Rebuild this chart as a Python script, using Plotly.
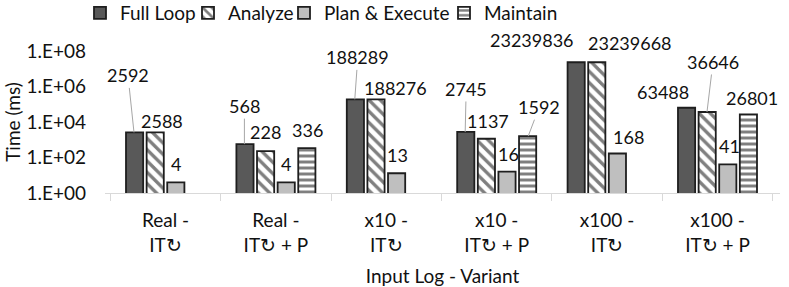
import math
import plotly.graph_objects as go

# ---- data ----
categories = ["Real -<br>IT↻", "Real -<br>IT↻ + P", "x10 -<br>IT↻",
              "x10 -<br>IT↻ + P", "x100 -<br>IT↻", "x100 -<br>IT↻ + P"]
full_loop = [2592, 568, 188289, 2745, 23239836, 63488]
analyze = [2588, 228, 188276, 1137, 23239668, 36646]
plan_execute = [4, 4, 13, 16, 168, 41]
maintain = [None, 336, None, 1592, None, 26801]
y_tickvals = [1, 1e2, 1e4, 1e6, 1e8]
y_ticktext = ["1.E+00", "1.E+02", "1.E+04", "1.E+06", "1.E+08"]

# ---- style ----
FONT = "Lato"
W, H = 789, 287
M_L, M_R, M_T, M_B = 105, 9, 51, 94
BARGAP, BARGROUPGAP = 0.253, 0.167
EDGE = "#1e1e1e"

# label placement per series: (dx px, dy px, leader line)
label_style = {
    "full": [(-6, -57, True), (0, -38, True), (3, -42, True), (1, -43, True), (-44, -22, False), (-23, -16, False)],
    "analyze": [(7, -11, False), (0, -19, False), (20, -11, False), (2, -18, False), (33, -19, False), (6, -50, True)],
    "plan": [(0, -18, False), (0, -18, False), (1, -18, False), (1, -18, False), (11, -17, False), (2, -18, False)],
    "maintain": [None, (0, -18, False), None, (11, -29, True), None, (3, -16, False)],
}
# left edge (px) of each legend entry
legend_x = [80, 188, 284, 444]

series = [
    ("Full Loop", full_loop, "full",
     dict(color="#595959", line=dict(color=EDGE, width=1.8))),
    ("Analyze", analyze, "analyze",
     dict(color="white", line=dict(color=EDGE, width=1.8),
          pattern=dict(shape="\\", fgcolor="#000000", bgcolor="white", size=8, solidity=0.42))),
    ("Plan & Execute", plan_execute, "plan",
     dict(color="#bfbfbf", line=dict(color=EDGE, width=1.8))),
    ("Maintain", maintain, "maintain",
     dict(color="white", line=dict(color=EDGE, width=1.8),
          pattern=dict(shape="-", fgcolor="#000000", bgcolor="white", size=6, solidity=0.5))),
]

legend_names = ["legend", "legend2", "legend3", "legend4"]

fig = go.Figure()
for k, (name, vals, key, marker) in enumerate(series):
    fig.add_trace(go.Bar(name=name, x=categories, y=vals, marker=marker,
                         legend=legend_names[k]))

plot_w = W - M_L - M_R
group_px = plot_w / len(categories)
slot_px = group_px * (1 - BARGAP) / len(series)

annotations = []
for k, (name, vals, key, marker) in enumerate(series):
    off = (k - (len(series) - 1) / 2) * slot_px
    for i, v in enumerate(vals):
        st = label_style[key][i]
        if v is None or st is None:
            continue
        dx, dy, leader = st
        common = dict(x=categories[i], y=math.log10(v), text=str(v),
                      font=dict(family=FONT, size=18, color="#111111"))
        if leader:
            annotations.append(dict(**common, showarrow=True, arrowhead=0, arrowwidth=1,
                                    arrowcolor="#a6a6a6", ax=dx, ay=dy, standoff=0,
                                    xshift=off))
        else:
            annotations.append(dict(**common, showarrow=False, xshift=off + dx, yshift=-dy,
                                    xanchor="center", yanchor="middle"))

legend_layout = {}
for k, ln in enumerate(legend_names):
    legend_layout[ln] = dict(orientation="h", xref="container", x=legend_x[k] / W,
                             xanchor="left", yref="container", y=1 - 13 / H,
                             yanchor="middle", font=dict(family=FONT, size=19),
                             itemwidth=30, bgcolor="rgba(0,0,0,0)")

fig.update_layout(
    width=W, height=H,
    margin=dict(l=M_L, r=M_R, t=M_T, b=M_B, pad=0, autoexpand=False),
    paper_bgcolor="white", plot_bgcolor="white",
    barmode="group", bargap=BARGAP, bargroupgap=BARGROUPGAP,
    font=dict(family=FONT, size=19, color="#111111"),
    showlegend=True,
    annotations=annotations,
    **legend_layout,
)

fig.update_xaxes(
    type="category", showline=True, linecolor="#d9d9d9", linewidth=1,
    ticks="outside", tickson="boundaries", ticklen=7, tickcolor="#d9d9d9",
    showgrid=False, tickfont=dict(family=FONT, size=19), ticklabelstandoff=10,
    title=dict(text="Input Log - Variant", font=dict(family=FONT, size=19), standoff=16),
)
fig.update_yaxes(
    type="log", range=[0, 8], tickvals=y_tickvals, ticktext=y_ticktext,
    showgrid=False, zeroline=False, showline=False, ticks="",
    tickfont=dict(family=FONT, size=19), ticklabelstandoff=18,
    title=dict(text="Time (ms)", font=dict(family=FONT, size=19), standoff=0),
)

# remove the browser's default page margin so the figure sits at the window origin
fig.write_html("out.html", config={"displayModeBar": False},
               post_script="document.body.style.margin='0px';")
